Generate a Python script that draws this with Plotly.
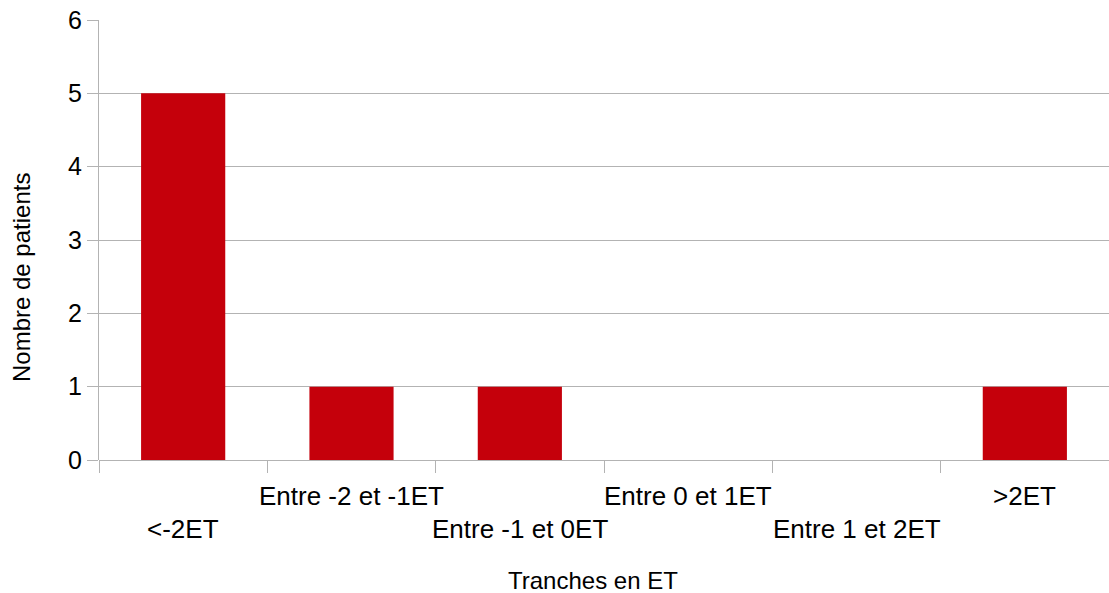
import plotly.graph_objects as go

categories = ["<-2ET", "Entre -2 et -1ET", "Entre -1 et 0ET", "Entre 0 et 1ET", "Entre 1 et 2ET", ">2ET"]
patients = [5, 1, 1, 0, 0, 1]
y_ticks = [0, 1, 2, 3, 4, 5, 6]
x_title = "Tranches en ET"
y_title = "Nombre de patients"

FONT = "Liberation Sans, Arial, sans-serif"
GRID = "#b3b3b3"

fig = go.Figure(go.Bar(x=categories, y=patients, marker=dict(color="#c5000b", line=dict(width=0))))

ann = []
for i, c in enumerate(categories):
    lower = (i % 2 == 0)
    ann.append(dict(x=c, xref="x", y=0, yref="y", yanchor="top", xanchor="center",
                    yshift=-52 if lower else -19, text=c, showarrow=False,
                    font=dict(family=FONT, size=26, color="black")))
ann.append(dict(x=0.489, xref="paper", y=(460 - 580) / 440, yref="paper", yanchor="middle",
                text=x_title, showarrow=False,
                font=dict(family=FONT, size=24, color="black")))
ann.append(dict(x=0, xref="paper", xshift=-78, y=0.4136, yref="paper", text=y_title, textangle=-90,
                showarrow=False, xanchor="center", yanchor="middle",
                font=dict(family=FONT, size=24, color="black")))

fig.update_layout(
    width=1109, height=593,
    margin=dict(l=99, r=0, t=20, b=133),
    paper_bgcolor="white", plot_bgcolor="white",
    bargap=0.5, showlegend=False,
    annotations=ann,
    font=dict(family=FONT, color="black"),
)
fig.update_xaxes(
    type="category", tickson="boundaries", ticks="outside", ticklen=12, tickcolor=GRID, tickwidth=1,
    showticklabels=False, showgrid=False, showline=False, zeroline=False,
)
fig.update_yaxes(
    range=[0, 6], tickvals=y_ticks, ticks="outside", ticklen=11, tickcolor=GRID,
    showgrid=True, gridcolor=GRID, gridwidth=1, zeroline=True, zerolinecolor=GRID, zerolinewidth=1,
    showline=True, linecolor=GRID, linewidth=1,
    tickfont=dict(family=FONT, size=25, color="black"),
)
fig.write_html("out.html", config={"displayModeBar": False},
               post_script="document.body.style.margin='0px';document.body.style.overflow='hidden';")
